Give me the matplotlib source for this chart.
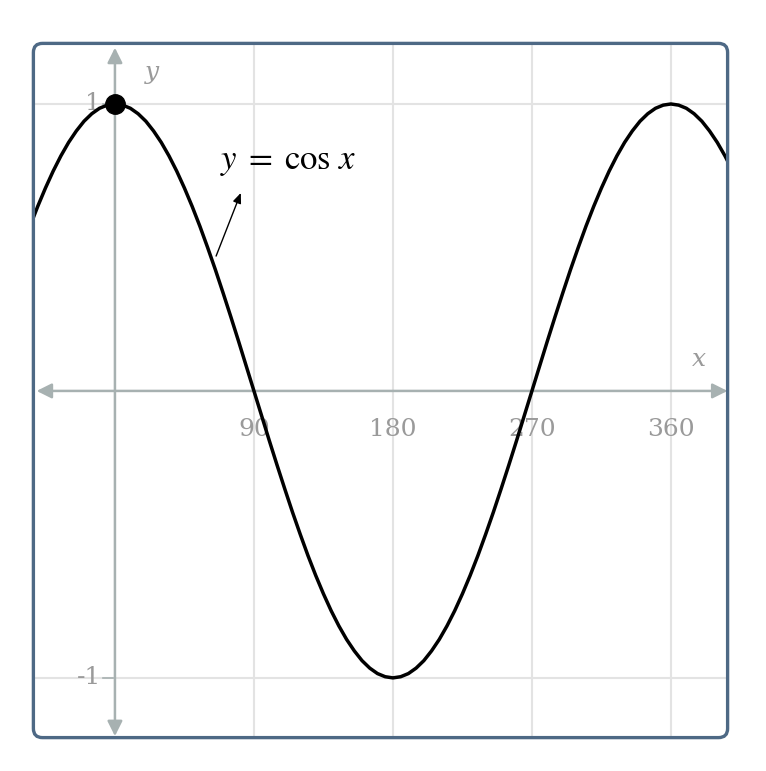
import matplotlib
matplotlib.use("Agg")
import matplotlib.pyplot as plt
import matplotlib.patches as mpatches

# ── Data ─────────────────────────────────────────────────────────────────────
x_deg = list(range(-55, 405, 5))
y_val = [
    0.574, 0.643, 0.707, 0.766, 0.819, 0.866, 0.906, 0.940, 0.966, 0.985, 0.996,
    1.000,
    0.996, 0.985, 0.966, 0.940, 0.906, 0.866, 0.819, 0.766, 0.707, 0.643, 0.574,
    0.500, 0.423, 0.342, 0.259, 0.174, 0.087, 0.000,
    -0.087, -0.174, -0.259, -0.342, -0.423, -0.500, -0.574, -0.643, -0.707,
    -0.766, -0.819, -0.866, -0.906, -0.940, -0.966, -0.985, -0.996, -1.000,
    -0.996, -0.985, -0.966, -0.940, -0.906, -0.866, -0.819, -0.766, -0.707,
    -0.643, -0.574, -0.500, -0.423, -0.342, -0.259, -0.174, -0.087, 0.000,
    0.087, 0.174, 0.259, 0.342, 0.423, 0.500, 0.574, 0.643, 0.707, 0.766,
    0.819, 0.866, 0.906, 0.940, 0.966, 0.985, 0.996, 1.000,
    0.996, 0.985, 0.966, 0.940, 0.906, 0.866, 0.819, 0.766,
]
x_ticks = [90, 180, 270, 360]
y_ticks = [1, -1]
marked_point = (0, 1)

X_MIN, X_MAX = -53.7, 397.6
Y_MIN, Y_MAX = -1.213, 1.216

AXIS_COLOR = "#a7b1b1"
GRID_COLOR = "#e3e3e3"
LABEL_COLOR = "#9a9a9a"
BORDER_COLOR = "#4e6985"

plt.rcParams["mathtext.fontset"] = "stix"

fig = plt.figure(figsize=(7.66, 7.71), dpi=100)
ax = fig.add_axes([32 / 766, 32 / 771, 697 / 766, 697 / 771])
ax.set_xlim(X_MIN, X_MAX)
ax.set_ylim(Y_MIN, Y_MAX)
ax.set_xticks([])
ax.set_yticks([])
for s in ax.spines.values():
    s.set_visible(False)

# grid
for xv in x_ticks:
    ax.axvline(xv, color=GRID_COLOR, lw=1.5, zorder=0)
for yv in y_ticks:
    ax.axhline(yv, color=GRID_COLOR, lw=1.5, zorder=0)

# axes with arrowheads
arrow_kw = dict(arrowstyle="<|-|>,head_length=0.9,head_width=0.45",
                color=AXIS_COLOR, lw=1.8, shrinkA=0, shrinkB=0)
ax.annotate("", xy=(X_MAX - 1, 0), xytext=(X_MIN + 3, 0),
            arrowprops=arrow_kw, zorder=1)
ax.annotate("", xy=(0, Y_MAX - 0.02), xytext=(0, Y_MIN + 0.01),
            arrowprops=arrow_kw, zorder=1)

# tick marks and labels
for xv in x_ticks:
    ax.plot([xv, xv], [-0.01, -0.04], color=GRID_COLOR, lw=1.2, zorder=1)
    ax.text(xv, -0.135, str(xv), ha="center", va="center", fontsize=18,
            family="DejaVu Serif", color=LABEL_COLOR)
for yv in y_ticks:
    ax.plot([-1, -8], [yv, yv], color=AXIS_COLOR, lw=1.2, zorder=1)
    ax.text(-9, yv, str(yv).replace("-", "\u2010"), ha="right", va="center",
            fontsize=18, family="DejaVu Serif", color=LABEL_COLOR)

ax.text(24, 1.11, "y", fontsize=18, style="italic", family="DejaVu Serif",
        color=LABEL_COLOR, ha="center", va="center")
ax.text(378, 0.11, "x", fontsize=18, style="italic", family="DejaVu Serif",
        color=LABEL_COLOR, ha="center", va="center")

# curve
ax.plot(x_deg, y_val, color="black", lw=2.5, zorder=3, solid_capstyle="round")
ax.plot(*marked_point, "o", color="black", markersize=14, zorder=4)

# annotation
ax.annotate("", xy=(81.5, 0.69), xytext=(65.5, 0.47),
            arrowprops=dict(arrowstyle="-|>,head_length=0.6,head_width=0.25",
                            color="black", lw=1.0, shrinkA=0, shrinkB=0))
ax.text(68, 0.80, r"$y\;=\;\cos\,x$", fontsize=25, ha="left", va="center",
        color="black")

# rounded frame
frame = mpatches.FancyBboxPatch((0.002, 0.002), 0.996, 0.996,
                                boxstyle="round,pad=0,rounding_size=0.013",
                                transform=ax.transAxes, fill=False,
                                edgecolor=BORDER_COLOR, lw=2.4, clip_on=False,
                                zorder=5)
ax.add_patch(frame)

fig.savefig("out.png", dpi=100, facecolor="white")
